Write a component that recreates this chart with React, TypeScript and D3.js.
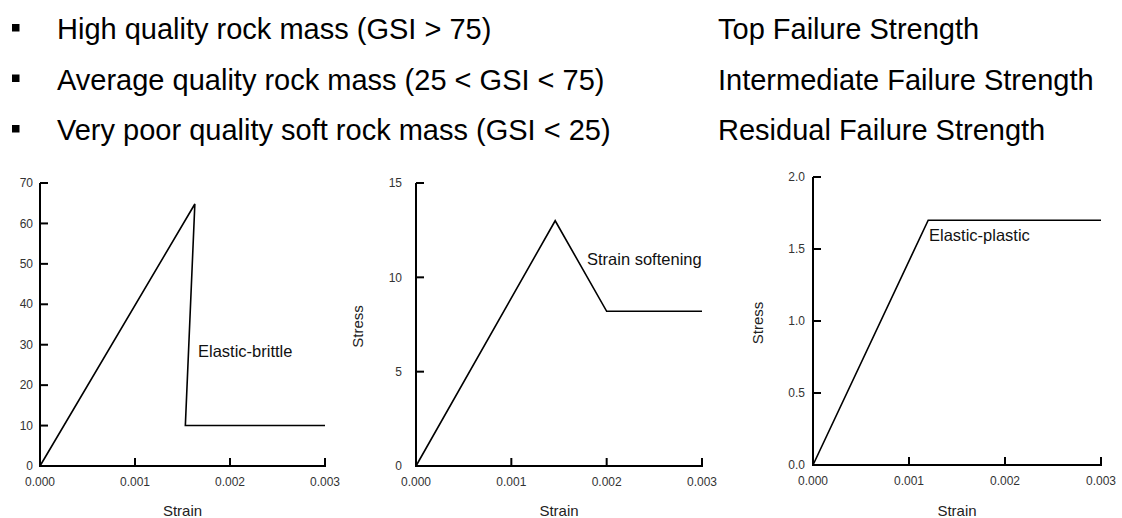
import React from "react";
import * as d3 from "d3";

// Header text
const leftLines = [
  "High quality rock mass (GSI > 75)",
  "Average quality rock mass (25 < GSI < 75)",
  "Very poor quality soft rock mass (GSI < 25)",
];
const rightLines = [
  "Top Failure Strength",
  "Intermediate Failure Strength",
  "Residual Failure Strength",
];

// Shared x ticks
const strainTicks = [0, 0.001, 0.002, 0.003];

// Panel 1: elastic-brittle
const brittleStrain = [0, 0.00163, 0.00153, 0.003];
const brittleStress = [0, 64.8, 10, 10];
const brittleTicks = [0, 10, 20, 30, 40, 50, 60, 70];

// Panel 2: strain softening
const softStrain = [0, 0.00146, 0.002, 0.003];
const softStress = [0, 13, 8.2, 8.2];
const softTicks = [0, 5, 10, 15];

// Panel 3: elastic-plastic
const plasticStrain = [0, 0.0012, 0.003];
const plasticStress = [0, 1.7, 1.7];
const plasticTicks = [0, 0.5, 1.0, 1.5, 2.0];

const FONT = "'Liberation Sans', Arial, Helvetica, sans-serif";

type PanelProps = {
  xs: number[];
  ys: number[];
  yTicks: number[];
  yFmt: (v: number) => string;
  x0: number;
  x1: number;
  y0: number;
  y1: number;
  labelGap: number;
  stressLabelX: number | null;
  note: string;
  noteX: number;
  noteY: number;
};

function Panel(p: PanelProps) {
  const yMax = p.yTicks[p.yTicks.length - 1];
  const x = d3.scaleLinear().domain([0, 0.003]).range([p.x0, p.x1]);
  const y = d3.scaleLinear().domain([0, yMax]).range([p.y0, p.y1]);
  const pts: [number, number][] = p.xs.map((v, i) => [v, p.ys[i]]);
  const line = d3
    .line<[number, number]>()
    .x((d) => x(d[0]))
    .y((d) => y(d[1]));
  const tick = 8;
  return (
    <g>
      {/* axes */}
      <line x1={p.x0} x2={p.x0} y1={p.y0 + 1} y2={p.y1} stroke="#000" strokeWidth={2} />
      <line x1={p.x0 - 1} x2={p.x1 + 1} y1={p.y0} y2={p.y0} stroke="#000" strokeWidth={2} />
      {p.yTicks.map((t) => (
        <g key={"y" + t}>
          <line x1={p.x0} x2={p.x0 + tick} y1={y(t)} y2={y(t)} stroke="#000" strokeWidth={2} />
          <text
            x={p.x0 - p.labelGap}
            y={y(t)}
            dy="0.35em"
            textAnchor="end"
            fontSize={12}
            fill="#333"
            fontFamily={FONT}
          >
            {p.yFmt(t)}
          </text>
        </g>
      ))}
      {strainTicks.map((t) => (
        <g key={"x" + t}>
          <line x1={x(t)} x2={x(t)} y1={p.y0} y2={p.y0 - tick} stroke="#000" strokeWidth={2} />
          <text
            x={x(t)}
            y={p.y0 + 20}
            textAnchor="middle"
            fontSize={12}
            fill="#333"
            fontFamily={FONT}
          >
            {d3.format(".3f")(t)}
          </text>
        </g>
      ))}
      <path d={line(pts) || ""} fill="none" stroke="#000" strokeWidth={1.6} />
      <text
        x={(p.x0 + p.x1) / 2}
        y={516}
        textAnchor="middle"
        fontSize={15}
        fill="#222"
        fontFamily={FONT}
      >
        Strain
      </text>
      {p.stressLabelX !== null && (
        <text
          transform={`translate(${p.stressLabelX},${(p.y0 + p.y1) / 2 + 2}) rotate(-90)`}
          textAnchor="middle"
          fontSize={15}
          fill="#222"
          fontFamily={FONT}
        >
          Stress
        </text>
      )}
      <text x={p.noteX} y={p.noteY} dy="0.35em" fontSize={16.5} fill="#111" fontFamily={FONT}>
        {p.note}
      </text>
    </g>
  );
}

export default function App() {
  const rowY = [39, 89.5, 140];
  return (
    <svg
      width={1122}
      height={518}
      style={{ position: "absolute", left: 0, top: 0, background: "#fff" }}
    >
      <rect x={0} y={0} width={1122} height={518} fill="#fff" />
      {leftLines.map((t, i) => (
        <g key={t}>
          <rect x={12} y={rowY[i] - 15} width={7.5} height={7.5} fill="#000" />
          <text x={57} y={rowY[i]} fontSize={29} fill="#000" fontFamily={FONT}>
            {t}
          </text>
        </g>
      ))}
      {rightLines.map((t, i) => (
        <text key={t} x={718} y={rowY[i]} fontSize={29} fill="#000" fontFamily={FONT}>
          {t}
        </text>
      ))}
      <Panel
        xs={brittleStrain}
        ys={brittleStress}
        yTicks={brittleTicks}
        yFmt={d3.format("d")}
        x0={40}
        x1={325}
        y0={466}
        y1={183}
        labelGap={7}
        stressLabelX={null}
        note="Elastic-brittle"
        noteX={198}
        noteY={351}
      />
      <Panel
        xs={softStrain}
        ys={softStress}
        yTicks={softTicks}
        yFmt={d3.format("d")}
        x0={416}
        x1={702}
        y0={466}
        y1={183}
        labelGap={14}
        stressLabelX={363}
        note="Strain softening"
        noteX={587}
        noteY={259}
      />
      <Panel
        xs={plasticStrain}
        ys={plasticStress}
        yTicks={plasticTicks}
        yFmt={d3.format(".1f")}
        x0={813}
        x1={1101}
        y0={465}
        y1={177}
        labelGap={8}
        stressLabelX={763}
        note="Elastic-plastic"
        noteX={929}
        noteY={235}
      />
    </svg>
  );
}
